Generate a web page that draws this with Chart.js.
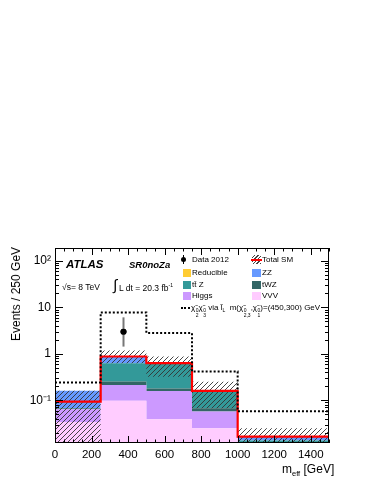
<!DOCTYPE html>
<html>
<head>
<meta charset="utf-8">
<script src="https://cdn.jsdelivr.net/npm/chart.js@4.4.1/dist/chart.umd.min.js"></script>
<style>
html, body { margin: 0; padding: 0; background: #fff; }
#wrap { position: relative; width: 374px; height: 484px; font-family: "Liberation Sans", Arial, Helvetica, sans-serif; color: #000; }
#wrap canvas { position: absolute; left: 0; top: 0; }
.t { position: absolute; white-space: nowrap; line-height: 1; }
.leg { font-size: 8px; }
.box { position: absolute; width: 8px; height: 8px; }
.ss { display: inline-flex; flex-direction: column; font-size: 5px; line-height: 1; vertical-align: -2px; margin-left: 0.5px; }
.atlas { font-weight: bold; font-style: italic; font-size: 11.5px; }
.sr { font-weight: bold; font-style: italic; font-size: 9.5px; }
.lumi { font-size: 8.5px; }
</style>
</head>
<body>
<div id="wrap">
  <canvas id="c" width="374" height="484"></canvas>

  <div class="t atlas" style="left:66px; top:259px;">ATLAS</div>
  <div class="t sr" style="left:129px; top:260px;">SR0noZa</div>
  <div class="t lumi" style="left:62px; top:283px;">√s= 8 TeV</div>
  <div class="t" style="left:113px; top:277px; font-size:15px; font-weight:lighter;">∫</div>
  <div class="t lumi" style="left:119px; top:283px;">L dt = 20.3 fb<sup style="font-size:5px;">-1</sup></div>

  <!-- legend -->
  <div class="t" style="left:183px; top:255px; width:1px; height:9px; background:#000;"></div>
  <div class="t" style="left:181px; top:257px; width:5px; height:5px; border-radius:50%; background:#000;"></div>
  <div class="t leg" style="left:192px; top:255.5px;">Data 2012</div>
  <div class="t" style="left:252px; top:255px; width:9px; height:9px; background:repeating-linear-gradient(135deg, #fff 0 1.5px, #444 1.5px 2.5px);"></div>
  <div class="t" style="left:251px; top:258.5px; width:11px; height:2px; background:#ff0000;"></div>
  <div class="t leg" style="left:262px; top:255.5px;">Total SM</div>

  <div class="box" style="left:183px; top:268.5px; background:#ffcc33;"></div>
  <div class="t leg" style="left:192px; top:268.5px;">Reducible</div>
  <div class="box" style="left:252px; top:268.5px; width:9px; background:#6699ff;"></div>
  <div class="t leg" style="left:262px; top:268.5px;">ZZ</div>

  <div class="box" style="left:183px; top:280.5px; background:#339999;"></div>
  <div class="t leg" style="left:192px; top:280.5px;">tt̄ Z</div>
  <div class="box" style="left:252px; top:280.5px; width:9px; background:#336666;"></div>
  <div class="t leg" style="left:262px; top:280.5px;">tWZ</div>

  <div class="box" style="left:183px; top:292px; background:#cc99ff;"></div>
  <div class="t leg" style="left:192px; top:292px;">Higgs</div>
  <div class="box" style="left:252px; top:292px; width:9px; background:#ffccff;"></div>
  <div class="t leg" style="left:262px; top:292px;">VVV</div>

  <div class="t" style="left:181px; top:307px; width:9px; border-top:2px dotted #000;"></div>
  <div class="t leg" style="left:191px; top:304px;">χ̃<span class="ss"><span>0</span><span>2</span></span>χ̃<span class="ss"><span>0</span><span>3</span></span> via l̃<span style="font-size:5px; vertical-align:-2px;">L</span>&nbsp; m(χ̃<span class="ss"><span>0</span><span>2,3</span></span>,χ̃<span class="ss"><span>0</span><span>1</span></span>)=(450,300) GeV</div>

  <!-- axis titles -->
  <div class="t" style="left:16px; top:294px; font-size:12px; transform:translate(-50%,-50%) rotate(-90deg);">Events / 250 GeV</div>
  <div class="t" style="left:282px; top:463px; font-size:12px;">m<sub style="font-size:7.5px;">eff</sub> [GeV]</div>
</div>

<script>
// bin edges in GeV, values per 250 GeV bin
const binEdges = [0, 250, 500, 750, 1000, 1250, 1500];

// SM stack components
const vvv       = [0.034, 0.097, 0.039, 0.025, 0.002, 0.002];
const higgs     = [0.030, 0.117, 0.120, 0.032, 0.002, 0.002];
const twz       = [0.002, 0.038, 0.021, 0.010, 0.004, 0.004];
const ttz       = [0.002, 0.378, 0.420, 0.083, 0.0055, 0.0055];
const zz        = [0.092, 0.240, 0.030, 0.005, 0.003, 0.003];
const reducible = [0, 0, 0, 0, 0, 0];

const totalSM = [0.093, 0.875, 0.63, 0.159, 0.0164, 0.0164];
const uncLo   = [0.005, 0.63, 0.32, 0.067, 0.005, 0.005];
const uncHi   = [0.16, 1.18, 0.87, 0.25, 0.025, 0.025];

// signal: chi2 chi3 via slepton, m = (450,300) GeV
const signal = [0.24, 7.8, 2.8, 0.415, 0.058, 0.058];

// data 2012
const dataX  = [375];
const dataY  = [3];
const dataLo = [1.43];
const dataHi = [6.1];

const yMin = 0.012, yMax = 190;
const xTicks = [0, 200, 400, 600, 800, 1000, 1200, 1400];
const yTickValues = [0.1, 1, 10, 100];
const yTickText = ['10⁻¹', '1', '10', '10²'];

function steps(vals) {
  return binEdges.map(function (x, i) {
    return { x: x, y: vals[Math.min(i, vals.length - 1)] };
  });
}

var running = vvv.map(function () { return 0; });
function stackOn(vals) {
  running = running.map(function (r, i) { return r + vals[i]; });
  return running.slice();
}

function hatch() {
  var c = document.createElement('canvas');
  c.width = 5; c.height = 5;
  var g = c.getContext('2d');
  g.strokeStyle = '#333';
  g.lineWidth = 0.9;
  g.beginPath();
  g.moveTo(0, 5); g.lineTo(5, 0);
  g.moveTo(-1, 1); g.lineTo(1, -1);
  g.moveTo(4, 6); g.lineTo(6, 4);
  g.stroke();
  return g.createPattern(c, 'repeat');
}

function histo(label, vals, color, fill) {
  return {
    label: label, data: steps(vals), stepped: true, fill: fill,
    backgroundColor: color, borderWidth: 0, pointRadius: 0, order: 10,
  };
}

var datasets = [
  histo('VVV', stackOn(vvv), '#ffccff', 'start'),
  histo('Higgs', stackOn(higgs), '#cc99ff', '-1'),
  histo('tWZ', stackOn(twz), '#336666', '-1'),
  histo('ttZ', stackOn(ttz), '#339999', '-1'),
  histo('ZZ', stackOn(zz), '#6699ff', '-1'),
  histo('Reducible', stackOn(reducible), '#ffcc33', '-1'),
  { label: 'uncLo', data: steps(uncLo), stepped: true, fill: false, borderWidth: 0, pointRadius: 0, order: 5 },
  { label: 'uncHi', data: steps(uncHi), stepped: true, fill: '-1', backgroundColor: hatch(), borderWidth: 0, pointRadius: 0, order: 5 },
  { label: 'Total SM', data: steps(totalSM), stepped: true, fill: false, borderColor: '#ff0000', borderWidth: 2.2, pointRadius: 0, order: 3 },
  { label: 'Signal', data: steps(signal), stepped: true, fill: false, borderColor: '#000', borderWidth: 2, borderDash: [2, 2], pointRadius: 0, order: 2 },
  {
    label: 'Data 2012',
    data: dataX.map(function (x, i) { return { x: x, y: dataY[i] }; }),
    showLine: false, pointRadius: 3, pointBackgroundColor: '#000', pointBorderWidth: 0, order: 1,
  },
];

var rootFrame = {
  id: 'rootFrame',
  afterDatasetsDraw: function (chart) {
    var ctx = chart.ctx, a = chart.chartArea, x = chart.scales.x, y = chart.scales.y;
    ctx.save();
    // error bars
    ctx.strokeStyle = '#777';
    ctx.lineWidth = 2;
    dataX.forEach(function (v, i) {
      var px = x.getPixelForValue(v);
      ctx.beginPath();
      ctx.moveTo(px, y.getPixelForValue(dataLo[i]));
      ctx.lineTo(px, y.getPixelForValue(dataHi[i]));
      ctx.stroke();
    });
    ctx.beginPath();
    ctx.arc(x.getPixelForValue(dataX[0]), y.getPixelForValue(dataY[0]), 3, 0, Math.PI * 2);
    ctx.fillStyle = '#000';
    ctx.fill();

    // inward ticks, all sides
    ctx.strokeStyle = '#000';
    ctx.lineWidth = 1;
    ctx.beginPath();
    for (var v = 0; v <= 1500; v += 50) {
      var px = Math.round(x.getPixelForValue(v)) + 0.5;
      var len = v % 200 === 0 ? 7 : 3.5;
      ctx.moveTo(px, a.bottom); ctx.lineTo(px, a.bottom - len);
      ctx.moveTo(px, a.top); ctx.lineTo(px, a.top + len);
    }
    y.ticks.forEach(function (t) {
      var py = Math.round(y.getPixelForValue(t.value)) + 0.5;
      var lg = Math.log10(t.value);
      var len = Math.abs(lg - Math.round(lg)) < 1e-6 ? 8 : 4;
      ctx.moveTo(a.left, py); ctx.lineTo(a.left + len, py);
      ctx.moveTo(a.right, py); ctx.lineTo(a.right - len, py);
    });
    ctx.stroke();
    ctx.strokeRect(a.left + 0.5, a.top + 0.5, a.width - 1, a.height - 1);
    ctx.restore();
  },
};

new Chart(document.getElementById('c'), {
  type: 'line',
  data: { datasets: datasets },
  options: {
    responsive: false,
    animation: false,
    layout: { padding: { top: 248, right: 45, left: 0, bottom: 0 } },
    plugins: { legend: { display: false }, tooltip: { enabled: false }, title: { display: false } },
    scales: {
      x: {
        type: 'linear', min: 0, max: 1500,
        grid: { display: false, drawTicks: false },
        border: { display: false },
        afterBuildTicks: function (s) { s.ticks = xTicks.map(function (v) { return { value: v }; }); },
        afterFit: function (s) { s.height = 41; },
        ticks: {
          autoSkip: false, maxRotation: 0, padding: 5, color: '#000',
          font: { family: '"Liberation Sans", Arial, sans-serif', size: 11.5 },
          callback: function (v) { return String(v); },
        },
      },
      y: {
        type: 'logarithmic', min: yMin, max: yMax,
        grid: { display: false, drawTicks: false },
        border: { display: false },
        afterBuildTicks: function (s) {
          var t = [];
          for (var e = -2; e <= 2; e++) {
            for (var m = 1; m <= 9; m++) {
              var v = m * Math.pow(10, e);
              if (v >= yMin && v <= yMax) t.push({ value: v });
            }
          }
          s.ticks = t;
        },
        afterFit: function (s) { s.width = 55; },
        ticks: {
          autoSkip: false, padding: 4, color: '#000',
          font: { family: '"Liberation Sans", Arial, sans-serif', size: 12 },
          callback: function (v) {
            for (var i = 0; i < yTickValues.length; i++) {
              if (Math.abs(v - yTickValues[i]) / yTickValues[i] < 1e-6) return yTickText[i];
            }
            return '';
          },
        },
      },
    },
  },
  plugins: [rootFrame],
});
</script>
</body>
</html>
